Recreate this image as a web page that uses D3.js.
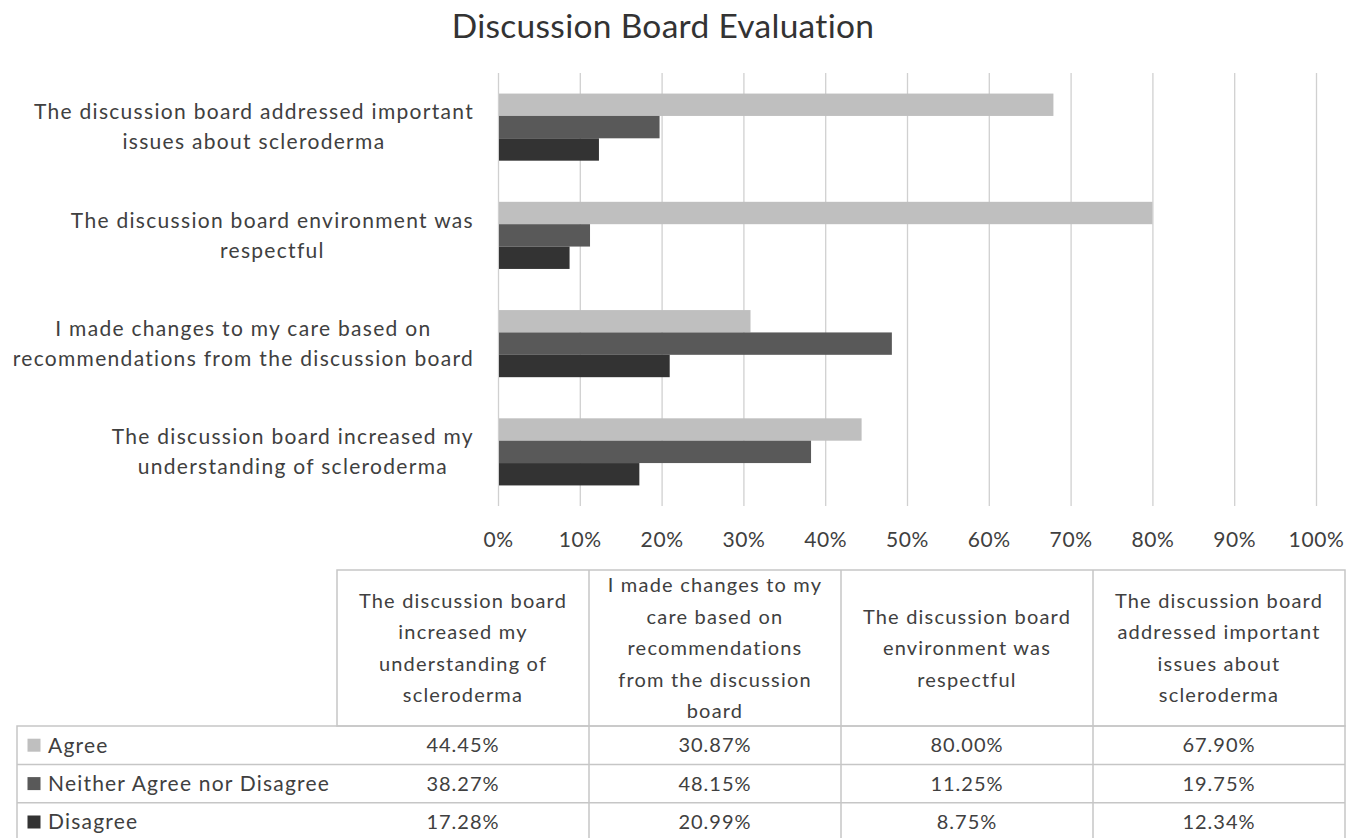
<!DOCTYPE html>
<html>
<head>
<meta charset="utf-8">
<script src="https://cdn.jsdelivr.net/npm/d3@7"></script>
<style>
  body { margin: 0; background: #fff; }
  text { font-family: Lato, "Open Sans", sans-serif; fill: #404040; }
</style>
</head>
<body>
<div id="vis"></div>
<script>
// categories in table order (left to right); chart draws them bottom to top
const categories = ['increased', 'changes', 'respectful', 'addressed']
const axisLabels = [
  ['The discussion board increased my', 'understanding of scleroderma'],
  ['I made changes to my care based on', 'recommendations from the discussion board'],
  ['The discussion board environment was', 'respectful'],
  ['The discussion board addressed important', 'issues about scleroderma']
]
const headerLabels = [
  ['The discussion board', 'increased my', 'understanding of', 'scleroderma'],
  ['I made changes to my', 'care based on', 'recommendations', 'from the discussion', 'board'],
  ['The discussion board', 'environment was', 'respectful'],
  ['The discussion board', 'addressed important', 'issues about', 'scleroderma']
]
const seriesNames = ['Agree', 'Neither Agree nor Disagree', 'Disagree']
const agree = [44.45, 30.87, 80.00, 67.90]
const neither = [38.27, 48.15, 11.25, 19.75]
const disagree = [17.28, 20.99, 8.75, 12.34]
const seriesValues = [agree, neither, disagree]
const colors = ['#bfbfbf', '#595959', '#333333']

let width = 1357, height = 838
let plot = {left: 498, right: 1316, top: 73, bottom: 506}

let svg = d3.select('#vis').append('svg')
  .attr('width', width)
  .attr('height', height)

// title
svg.append('text')
  .attr('x', 663)
  .attr('y', 38)
  .attr('text-anchor', 'middle')
  .style('font-size', '33.5px')
  .style('letter-spacing', '0.3px')
  .style('fill', '#333')
  .text('Discussion Board Evaluation')

let xScale = d3.scaleLinear().domain([0, 100]).range([plot.left, plot.right])

let yScale = d3.scaleBand()
  .domain(categories.slice().reverse())
  .range([plot.top, plot.bottom])
  .paddingInner(0.38)
  .paddingOuter(0.19)

let subScale = d3.scaleBand()
  .domain(seriesNames)
  .range([0, yScale.bandwidth()])

// gridlines + tick labels
let xAxis = svg.append('g')
  .attr('transform', `translate(0,${plot.bottom})`)
  .call(d3.axisBottom(xScale)
    .tickValues(d3.range(0, 101, 10))
    .tickSize(-(plot.bottom - plot.top))
    .tickPadding(26)
    .tickFormat(d => d + '%'))
xAxis.select('.domain').remove()
xAxis.selectAll('.tick line').attr('stroke', '#d0d0d0').attr('stroke-width', 1.3)
xAxis.selectAll('.tick text')
  .style('font-size', '21px')
  .style('letter-spacing', '0.6px')
  .style('font-family', 'Lato, sans-serif')
  .attr('fill', '#404040')

// bars
let rows = []
categories.forEach((c, i) => {
  seriesNames.forEach((s, j) => {
    rows.push({cat: c, series: s, value: seriesValues[j][i], color: colors[j]})
  })
})

svg.selectAll('.bar')
  .data(rows)
  .join('rect')
  .attr('class', 'bar')
  .attr('x', xScale(0) + 1)
  .attr('y', d => yScale(d.cat) + subScale(d.series))
  .attr('width', d => xScale(d.value) - xScale(0) - 1)
  .attr('height', subScale.bandwidth())
  .attr('fill', d => d.color)

// category labels, two centred lines, block right-aligned
let labelRight = 474
categories.forEach((c, i) => {
  let cy = yScale(c) + yScale.bandwidth() / 2
  let g = svg.append('g')
  let lines = axisLabels[i]
  let texts = g.selectAll('text')
    .data(lines)
    .join('text')
    .attr('y', (d, k) => cy + (k - (lines.length - 1) / 2) * 30)
    .attr('dy', '0.35em')
    .attr('text-anchor', 'middle')
    .style('font-size', '21px')
    .style('letter-spacing', '1.3px')
    .text(d => d)
  let maxW = d3.max(texts.nodes(), n => n.getComputedTextLength())
  texts.attr('x', labelRight - maxW / 2)
})

// data table
let tbl = {left: 17, legendRight: 337, right: 1345, top: 570, headBottom: 726, rowH: 38.4}
let colScale = d3.scaleBand()
  .domain(categories)
  .range([tbl.legendRight, tbl.right])

let table = svg.append('g')
let lineColor = '#c6c6c6'

// header box
table.append('rect')
  .attr('x', tbl.legendRight)
  .attr('y', tbl.top)
  .attr('width', tbl.right - tbl.legendRight)
  .attr('height', tbl.headBottom - tbl.top)
  .attr('fill', 'none')
  .attr('stroke', lineColor)
  .attr('stroke-width', 1.5)

// body box
table.append('rect')
  .attr('x', tbl.left)
  .attr('y', tbl.headBottom)
  .attr('width', tbl.right - tbl.left)
  .attr('height', tbl.rowH * seriesNames.length)
  .attr('fill', 'none')
  .attr('stroke', lineColor)
  .attr('stroke-width', 1.5)

// row lines
table.selectAll('.rowline')
  .data(seriesNames.slice(1))
  .join('line')
  .attr('x1', tbl.left)
  .attr('x2', tbl.right)
  .attr('y1', (d, i) => tbl.headBottom + (i + 1) * tbl.rowH)
  .attr('y2', (d, i) => tbl.headBottom + (i + 1) * tbl.rowH)
  .attr('stroke', lineColor)
  .attr('stroke-width', 1.5)

// column lines
table.selectAll('.colline')
  .data(categories.slice(1))
  .join('line')
  .attr('x1', d => colScale(d))
  .attr('x2', d => colScale(d))
  .attr('y1', tbl.top)
  .attr('y2', tbl.headBottom + tbl.rowH * seriesNames.length)
  .attr('stroke', lineColor)
  .attr('stroke-width', 1.5)

// header text
let headMid = (tbl.top + tbl.headBottom) / 2
categories.forEach((c, i) => {
  let lines = headerLabels[i]
  table.append('g').selectAll('text')
    .data(lines)
    .join('text')
    .attr('x', colScale(c) + colScale.bandwidth() / 2)
    .attr('y', (d, k) => headMid + (k - (lines.length - 1) / 2) * 31.5)
    .attr('dy', '0.35em')
    .attr('text-anchor', 'middle')
    .style('font-size', '20px')
    .style('letter-spacing', '1.2px')
    .text(d => d)
})

// legend rows + values
seriesNames.forEach((s, j) => {
  let cy = tbl.headBottom + (j + 0.5) * tbl.rowH
  table.append('rect')
    .attr('x', 27.5)
    .attr('y', cy - 6.5)
    .attr('width', 13)
    .attr('height', 13)
    .attr('fill', colors[j])
  table.append('text')
    .attr('x', 48)
    .attr('y', cy)
    .attr('dy', '0.35em')
    .style('font-size', '21px')
    .style('letter-spacing', '1.2px')
    .text(s)
  table.selectAll('.val' + j)
    .data(seriesValues[j])
    .join('text')
    .attr('x', (d, i) => colScale(categories[i]) + colScale.bandwidth() / 2)
    .attr('y', cy)
    .attr('dy', '0.35em')
    .attr('text-anchor', 'middle')
    .style('font-size', '20px')
    .style('letter-spacing', '1px')
    .text(d => d.toFixed(2) + '%')
})
</script>
</body>
</html>
